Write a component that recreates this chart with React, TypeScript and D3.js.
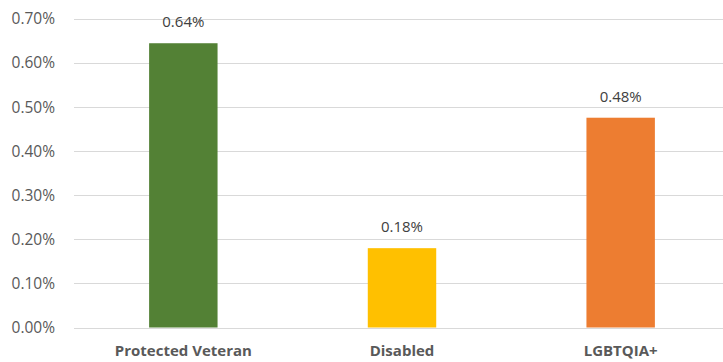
import React from "react";
import * as d3 from "d3";

const categories = ["Protected Veteran", "Disabled", "LGBTQIA+"];
const values = [0.645, 0.18, 0.476];
const valueLabels = ["0.64%", "0.18%", "0.48%"];
const colors = ["#538135", "#FFC000", "#ED7D31"];
const yTicks = [0, 0.1, 0.2, 0.3, 0.4, 0.5, 0.6, 0.7];

const W = 723;
const H = 362;
const left = 74;
const right = 730;
const top = 19;
const bottom = 327.5;

export default function App() {
  const x = d3.scaleBand<string>().domain(categories).range([left, right]).paddingInner(0).paddingOuter(0);
  const y = d3.scaleLinear().domain([0, 0.7]).range([bottom, top]);
  const bw = x.step() * 0.313;
  const font = "'Open Sans', 'Liberation Sans', sans-serif";
  return (
    <svg width={W} height={H} style={{ position: "absolute", left: 0, top: 0, background: "#fff" }}>
      {yTicks.map((t) => (
        <g key={t}>
          <line x1={left} x2={W} y1={Math.round(y(t)) + 0.5} y2={Math.round(y(t)) + 0.5} stroke="#d9d9d9" strokeWidth={1} />
          <text x={55} y={y(t)} dy="0.35em" textAnchor="end" fontFamily={font} fontSize={15.5} fill="#595959">
            {d3.format(".2f")(t) + "%"}
          </text>
        </g>
      ))}
      {categories.map((c, i) => {
        const cx = (x(c) as number) + x.bandwidth() / 2;
        return (
          <g key={c}>
            <rect x={cx - bw / 2} y={y(values[i])} width={bw} height={bottom - y(values[i])} fill={colors[i]} />
            <text x={cx} y={y(values[i]) - 16} textAnchor="middle" fontFamily={font} fontSize={15} fill="#404040">
              {valueLabels[i]}
            </text>
            <text x={cx} y={356} textAnchor="middle" fontFamily={font} fontSize={15} fontWeight="bold" fill="#595959">
              {c}
            </text>
          </g>
        );
      })}
    </svg>
  );
}
